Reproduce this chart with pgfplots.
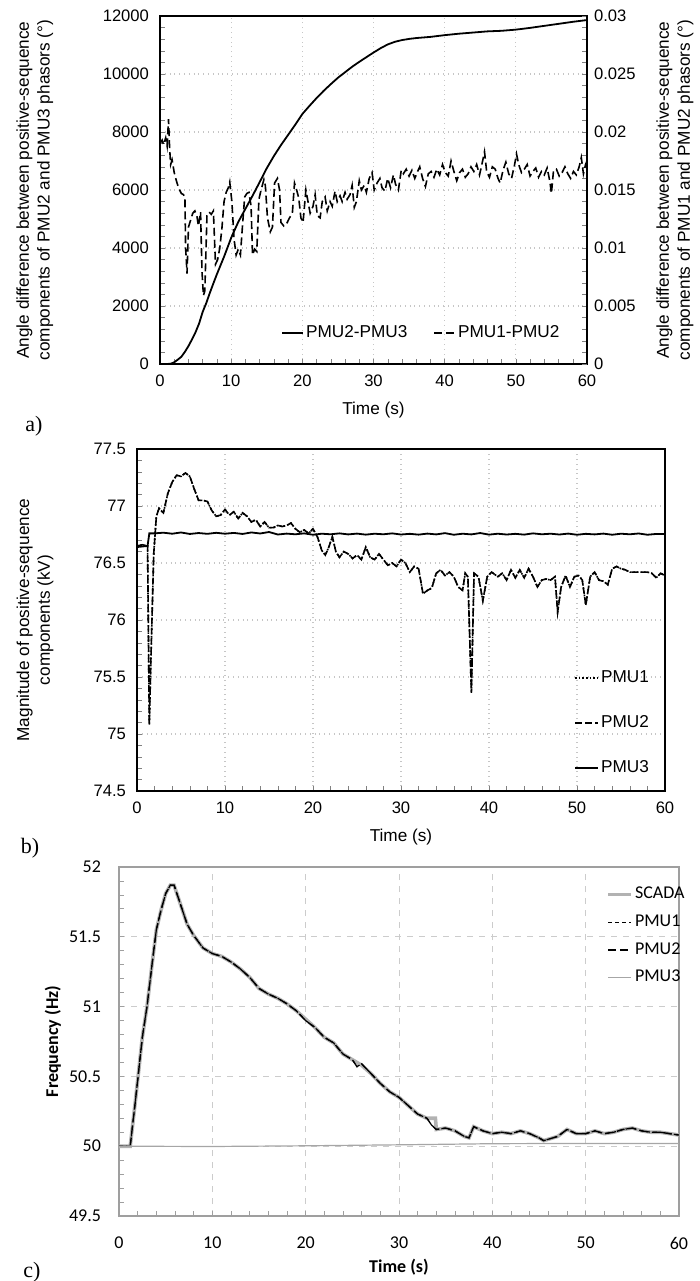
\documentclass[border=0pt]{standalone}
\usepackage{fontspec}
\setmainfont{Liberation Sans}
\newfontfamily\carlito{Carlito}
\newfontfamily\timesf{Liberation Serif}
\usepackage{pgfplots}
\usepackage{pgfplotstable}
\pgfplotsset{compat=1.18}

% ---- panel a: angle differences
\pgfplotstableread{
t ang
0 0
1 0
1.5 10
2 60
2.5 150
3 250
3.5 420
4 620
4.5 850
5 1100
5.5 1400
6 1800
6.5 2100
7 2450
7.5 2780
8 3100
9 3700
10 4350
11 4900
12 5350
13 5800
14 6270
15 6750
16 7170
17 7550
18 7900
19 8250
20 8620
21 8900
22 9170
23 9420
24 9650
25 9870
26 10060
27 10250
28 10420
29 10580
30 10740
31 10890
32 11020
33 11110
34 11170
35 11210
36 11240
37 11260
38 11280
40 11340
42 11390
44 11430
46 11470
48 11490
50 11530
52 11590
54 11660
56 11730
58 11800
60 11860
}\angA

\pgfplotstableread{
t ang
0 0.0190
0.3 0.0193
0.5 0.0189
0.8 0.0195
1.0 0.0188
1.2 0.0211
1.35 0.0186
1.5 0.0172
1.7 0.0176
2.0 0.0165
2.3 0.0158
2.6 0.0152
3.0 0.0147
3.3 0.0146
3.5 0.0144
3.6 0.0100
3.8 0.0078
4.0 0.0118
4.3 0.0124
4.6 0.0130
4.9 0.0132
5.2 0.0127
5.4 0.0119
5.7 0.0131
5.9 0.0080
6.1 0.0059
6.3 0.0063
6.6 0.0128
6.9 0.0131
7.2 0.0129
7.5 0.0132
7.8 0.0086
8.1 0.0090
8.4 0.0100
8.7 0.0117
9.0 0.0140
9.3 0.0148
9.6 0.0152
9.8 0.0157
10.1 0.0140
10.4 0.0108
10.7 0.0094
11.0 0.0099
11.3 0.0094
11.6 0.0120
11.9 0.0144
12.2 0.0147
12.5 0.0148
12.8 0.0136
13.0 0.0094
13.3 0.0099
13.6 0.0097
13.9 0.0142
14.2 0.0150
14.6 0.0159
14.8 0.0154
15.1 0.0126
15.5 0.0114
15.8 0.0118
16.1 0.0156
16.5 0.0160
16.8 0.0150
17.0 0.0122
17.4 0.0119
17.8 0.0121
18.2 0.0126
18.6 0.0130
18.9 0.0156
19.2 0.0150
19.5 0.0143
19.8 0.0126
20.1 0.0122
20.5 0.0150
20.8 0.0140
21.1 0.0130
21.5 0.0136
21.8 0.0146
22.1 0.0128
22.5 0.0126
22.8 0.0140
23.2 0.0144
23.5 0.0132
23.9 0.0140
24.2 0.0136
24.6 0.0149
24.9 0.0140
25.3 0.0145
25.6 0.0140
26.0 0.0148
26.3 0.0142
26.7 0.0146
27.0 0.0154
27.3 0.0135
27.6 0.0140
28.0 0.0158
28.3 0.0150
28.7 0.0154
29.0 0.0148
29.4 0.0160
29.8 0.0165
30.1 0.0150
30.5 0.0156
30.9 0.0160
31.2 0.0152
31.6 0.0149
32.0 0.0160
32.4 0.0152
32.8 0.0163
33.1 0.0155
33.5 0.0150
33.9 0.0167
34.2 0.0164
34.6 0.0168
35.0 0.0162
35.4 0.0167
35.8 0.0160
36.2 0.0166
36.5 0.0170
36.9 0.0160
37.3 0.0153
37.7 0.0164
38.1 0.0166
38.5 0.0161
38.9 0.0168
39.3 0.0163
39.7 0.0172
40.1 0.0165
40.5 0.0162
40.9 0.0175
41.3 0.0166
41.7 0.0158
42.1 0.0165
42.5 0.0168
42.9 0.0161
43.3 0.0164
43.7 0.0170
44.1 0.0166
44.5 0.0172
44.9 0.0163
45.3 0.0174
45.6 0.0183
45.9 0.0166
46.3 0.0161
46.7 0.0170
47.1 0.0168
47.5 0.0160
47.8 0.0156
48.2 0.0167
48.6 0.0174
49.0 0.0164
49.4 0.0160
49.8 0.0171
50.1 0.0181
50.4 0.0172
50.8 0.0165
51.2 0.0168
51.6 0.0172
52.0 0.0162
52.4 0.0166
52.8 0.0169
53.2 0.0161
53.6 0.0166
54.0 0.0163
54.4 0.0169
54.8 0.0157
55.0 0.0147
55.3 0.0167
55.7 0.0168
56.1 0.0162
56.5 0.0165
56.9 0.0170
57.3 0.0164
57.7 0.0160
58.1 0.0166
58.5 0.0163
58.9 0.0170
59.2 0.0178
59.5 0.0164
59.8 0.0172
60.0 0.0175
}\angB

% ---- panel b: magnitudes (kV)
\pgfplotstableread{
t v
0 76.65
0.6 76.66
1.2 76.65
1.4 75.08
1.6 75.71
1.9 76.58
2.2 76.91
2.5 76.98
3.0 76.94
3.5 77.11
4.0 77.21
4.5 77.27
5.0 77.26
5.5 77.29
6.0 77.26
6.5 77.15
7.0 77.05
7.5 77.05
8.0 77.04
8.5 76.96
9.0 76.91
9.5 76.92
10 76.97
10.5 76.92
11 76.95
11.5 76.89
12 76.94
12.5 76.91
13 76.86
13.5 76.88
14 76.82
14.5 76.86
15 76.81
15.5 76.81
16 76.83
16.5 76.82
17 76.83
17.5 76.85
18 76.80
18.5 76.77
19 76.79
19.5 76.76
20 76.80
20.5 76.73
21 76.61
21.4 76.57
21.8 76.64
22.2 76.73
22.6 76.60
23 76.55
23.5 76.60
24 76.58
24.5 76.54
25 76.57
25.5 76.53
26 76.64
26.5 76.55
27 76.53
27.5 76.58
28 76.53
28.5 76.48
29 76.50
29.5 76.47
30 76.53
30.5 76.50
31 76.42
31.5 76.47
32 76.45
32.5 76.23
33 76.26
33.5 76.28
34 76.41
34.5 76.44
35 76.39
35.5 76.42
36 76.38
36.5 76.29
37 76.26
37.3 76.41
37.6 76.38
38.0 75.36
38.3 76.41
38.8 76.38
39.3 76.17
39.8 76.38
40.3 76.42
41 76.38
41.5 76.41
42 76.35
42.5 76.44
43 76.37
43.5 76.44
44 76.37
44.5 76.45
45 76.38
45.5 76.29
46 76.35
46.5 76.36
47 76.35
47.5 76.38
47.8 76.07
48.2 76.29
48.7 76.39
49.2 76.29
49.7 76.38
50.2 76.39
50.6 76.35
51 76.13
51.5 76.38
52 76.42
52.5 76.35
53 76.34
53.5 76.31
54 76.45
54.5 76.47
55 76.45
55.5 76.44
56 76.42
57 76.42
58 76.42
58.5 76.41
59 76.37
59.5 76.41
60 76.39
}\magA

\pgfplotstableread{
t v
0 76.64
1.2 76.65
1.4 76.76
2 76.760
3 76.766
4 76.757
5 76.768
6 76.755
7 76.763
8 76.756
9 76.765
10 76.757
11 76.764
12 76.755
13 76.768
14 76.759
15 76.772
16 76.750
17 76.758
18 76.752
19 76.760
20 76.748
21 76.757
22 76.752
23 76.760
24 76.751
25 76.758
26 76.749
27 76.757
28 76.752
29 76.760
30 76.750
31 76.756
32 76.749
33 76.758
34 76.751
35 76.762
36 76.748
37 76.757
38 76.751
39 76.763
40 76.749
41 76.757
42 76.750
43 76.756
44 76.749
45 76.760
46 76.752
47 76.757
48 76.750
49 76.758
50 76.748
51 76.756
52 76.751
53 76.758
54 76.748
55 76.757
56 76.752
57 76.759
58 76.748
59 76.755
60 76.755
}\magC

% ---- panel c: frequency (Hz)
\pgfplotstableread{
t f
0 50.0
1.2 50.0
1.8 50.35
2.5 50.78
3.0 51.0
3.5 51.28
4.0 51.55
4.5 51.69
5.0 51.81
5.5 51.87
5.9 51.87
6.3 51.79
6.8 51.69
7.3 51.59
8 51.51
9 51.42
10 51.38
11 51.36
12 51.32
13 51.27
14 51.21
15 51.13
16 51.09
17 51.06
18 51.02
19 50.97
20 50.90
21 50.85
22 50.78
23 50.74
24 50.66
25 50.62
25.5 50.57
26 50.59
27 50.52
28 50.45
29 50.39
30 50.35
31 50.29
32 50.23
33 50.20
33.5 50.15
34 50.12
35 50.13
36 50.11
37 50.07
37.5 50.06
38 50.14
39 50.11
40 50.09
41 50.10
42 50.09
43 50.11
44 50.09
45 50.06
45.5 50.04
46 50.05
47 50.07
48 50.12
49 50.09
50 50.09
51 50.11
52 50.09
53 50.10
54 50.12
55 50.13
56 50.11
57 50.10
58 50.10
59 50.09
60 50.08
}\freqP

\pgfplotstableread{
t f
0 50.0
1.2 50.0
1.8 50.35
2.5 50.78
3.0 51.0
3.5 51.28
4.0 51.55
4.5 51.69
5.0 51.81
5.5 51.87
5.9 51.87
6.3 51.79
6.8 51.69
7.3 51.59
8 51.51
9 51.42
10 51.38
11 51.36
12 51.32
13 51.27
14 51.21
15 51.13
16 51.09
17 51.06
18 51.02
19 50.97
20 50.91
21 50.85
22 50.78
23 50.74
24 50.66
25 50.62
26 50.58
27 50.52
28 50.45
29 50.39
30 50.35
31 50.29
32 50.23
33 50.20
33.9 50.20
34 50.12
35 50.13
36 50.11
37 50.07
37.5 50.06
38 50.14
39 50.11
40 50.09
41 50.10
42 50.09
43 50.11
44 50.09
45 50.06
45.5 50.04
46 50.05
47 50.07
48 50.12
49 50.09
50 50.09
51 50.11
52 50.09
53 50.10
54 50.12
55 50.13
56 50.11
57 50.10
58 50.10
59 50.09
60 50.08
}\freqS

\pgfplotstableread{
t f
0 50.0
10 49.998
20 50.003
30 50.010
40 50.018
50 50.020
60 50.020
}\freqT

\pgfplotsset{
  pmu/.style={
    scale only axis, anchor=south west,
    xmin=0, xmax=60, xtick={0,10,...,60}, minor x tick num=4,
    tick align=inside, xtick pos=bottom, ytick pos=left,
    major tick length=2.5pt, minor tick length=2.5pt,
    /pgf/number format/assume math mode=true,
    tick label style={font=\fontsize{8.3}{10}\selectfont},
    label style={font=\fontsize{8.6}{10.4}\selectfont},
    axis line style={line width=0.6pt},
    grid=major, major grid style={gray!45, dotted, line width=0.6pt},
    xticklabel style={yshift=-2pt}, yticklabel style={xshift=-2pt},
  }
}

\begin{document}
\begin{tikzpicture}
\path[use as bounding box] (0,0) rectangle (350pt,-640.5pt);

% a)
\begin{axis}[pmu, at={(80pt,-182pt)}, width=213.5pt, height=174pt,
  ymin=0, ymax=12000, ytick={0,2000,...,12000}, minor y tick num=4,
  scaled y ticks=false, yticklabel style={/pgf/number format/1000 sep={}},
  xlabel={Time (s)},
  xlabel style={at={(axis description cs:0.5,-0.132)}, anchor=center},
  ylabel={Angle difference between positive-sequence\\components of PMU2 and PMU3 phasors (°)},
  ylabel style={at={(axis description cs:-0.293,0.5)}, anchor=center, align=center},
  legend columns=2,
  legend image code/.code={\draw[#1] (0pt,0pt) -- (10.5pt,0pt);},
  legend style={draw=none, fill=none, at={(axis description cs:0.955,0.089)}, anchor=east,
    font=\fontsize{8.6}{10}\selectfont, nodes={inner xsep=1pt},
    /tikz/every even column/.append style={column sep=12pt}},
]
\addplot[black, line width=0.9pt] table[x=t, y=ang] {\angA};
\addlegendentry{PMU2-PMU3}
\addlegendimage{black, line width=0.8pt, dash pattern=on 4pt off 2pt}
\addlegendentry{PMU1-PMU2}
\end{axis}
\begin{axis}[pmu, at={(80pt,-182pt)}, width=213.5pt, height=174pt, grid=none,
  hide x axis, axis y line*=right, ytick pos=right,
  ymin=0, ymax=0.03, ytick={0,0.005,...,0.03}, minor y tick num=4,
  scaled y ticks=false,
  yticklabel style={xshift=2pt, /pgf/number format/.cd, fixed, precision=3},
  ylabel={Angle difference between positive-sequence\\components of PMU1 and PMU2 phasors (°)},
  ylabel style={at={(axis description cs:1.206,0.5)}, anchor=center, align=center, rotate=0},
]
\addplot[black, line width=0.8pt, dash pattern=on 4pt off 2pt] table[x=t, y=ang] {\angB};
\end{axis}
\node[font=\timesf\fontsize{11}{13}\selectfont] at (17pt,-213pt) {a)};

% b)
\begin{axis}[pmu, at={(68.5pt,-395.5pt)}, width=264pt, height=171pt,
  ymin=74.5, ymax=77.5, ytick={74.5,75,75.5,76,76.5,77,77.5}, minor y tick num=4,
  xlabel={Time (s)},
  xlabel style={at={(axis description cs:0.5,-0.135)}, anchor=center},
  ylabel={Magnitude of positive-sequence\\components (kV)},
  ylabel style={at={(axis description cs:-0.193,0.5)}, anchor=center, align=center},
  legend image code/.code={\draw[#1] (0pt,0pt) -- (11.5pt,0pt);},
  legend style={draw=none, fill=none, at={(axis description cs:0.816,0.377)}, anchor=north west,
    font=\fontsize{8.6}{10}\selectfont, nodes={inner xsep=1pt}, row sep=11pt},
  legend cell align=left,
]
\addplot[black, line width=0.8pt, densely dotted] table[x=t, y=v] {\magA};
\addlegendentry{PMU1}
\addplot[black, line width=0.8pt, dash pattern=on 3.5pt off 1.5pt] table[x=t, y=v] {\magA};
\addlegendentry{PMU2}
\addplot[black, line width=0.9pt] table[x=t, y=v] {\magC};
\addlegendentry{PMU3}
\end{axis}
\node[font=\timesf\fontsize{11}{13}\selectfont] at (15pt,-424pt) {b)};

% c)
\begin{axis}[scale only axis, anchor=south west, at={(59.5pt,-608pt)}, width=280pt, height=174.5pt,
  xmin=0, xmax=60, xtick={0,10,...,60}, minor x tick num=4,
  ymin=49.5, ymax=52, ytick={49.5,50,50.5,51,51.5,52}, minor y tick num=4,
  tick align=inside, xtick pos=bottom, ytick pos=left,
  major tick length=2.5pt, minor tick length=2.5pt,
  /pgf/number format/assume math mode=true,
  axis line style={gray!75, line width=0.6pt}, every tick/.style={gray!75},
  grid=major, major grid style={gray!40, dashed, line width=0.4pt},
  tick label style={font=\carlito\fontsize{9}{11}\selectfont},
  xticklabel style={yshift=-7pt}, yticklabel style={xshift=-5.5pt},
  xlabel={\bfseries Time (s)}, ylabel={\bfseries Frequency (Hz)},
  label style={font=\carlito\fontsize{9}{11}\selectfont},
  xlabel style={at={(axis description cs:0.5,-0.146)}, anchor=center},
  ylabel style={at={(axis description cs:-0.118,0.5)}, anchor=center},
  legend image code/.code={\draw[#1] (0pt,0pt) -- (11.5pt,0pt);},
  legend style={draw=none, fill=none, at={(axis description cs:0.859,0.966)}, anchor=north west,
    font=\carlito\fontsize{9}{11}\selectfont, nodes={inner xsep=1pt}, row sep=2.5pt},
  legend cell align=left,
]
\addplot[gray!60, line width=1.8pt] table[x=t, y=f] {\freqS};
\addlegendentry{SCADA}
\addplot[black, line width=0.6pt, dash pattern=on 2pt off 1.5pt] table[x=t, y=f] {\freqP};
\addlegendentry{PMU1}
\addplot[black, line width=0.7pt, dash pattern=on 4pt off 2pt] table[x=t, y=f] {\freqP};
\addlegendentry{PMU2}
\addplot[gray!70, line width=0.6pt] table[x=t, y=f] {\freqT};
\addlegendentry{PMU3}
\end{axis}
\node[font=\timesf\fontsize{11}{13}\selectfont] at (16pt,-636pt) {c)};
\end{tikzpicture}
\end{document}
